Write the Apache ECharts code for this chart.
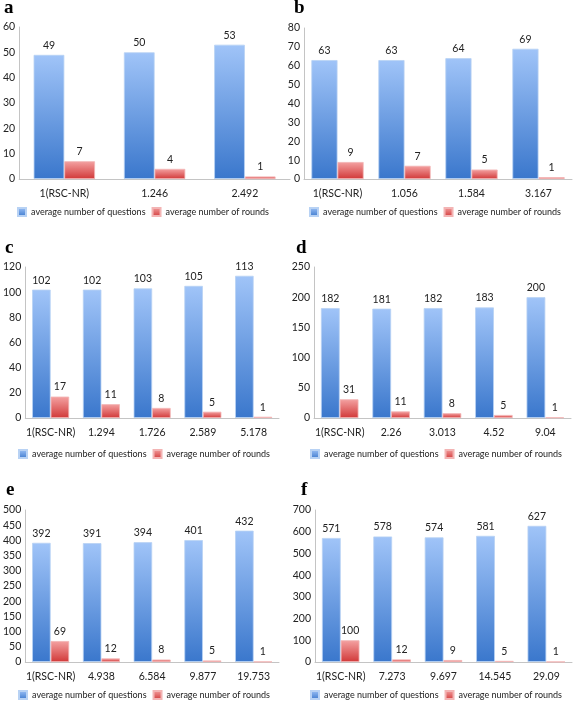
<!DOCTYPE html>
<html><head><meta charset="utf-8">
<script src="https://cdn.jsdelivr.net/npm/echarts@6/dist/echarts.min.js"></script>
<style>html,body{margin:0;padding:0;background:#fff}#c{width:573px;height:701px}</style>
</head><body><div id="c"></div>
<script>
const panelLetters = ['a','b','c','d','e','f'];
const catsA = ['1(RSC-NR)','1.246','2.492'];
const questionsA = [49,50,53];
const roundsA = [7,4,1];
const catsB = ['1(RSC-NR)','1.056','1.584','3.167'];
const questionsB = [63,63,64,69];
const roundsB = [9,7,5,1];
const catsC = ['1(RSC-NR)','1.294','1.726','2.589','5.178'];
const questionsC = [102,102,103,105,113];
const roundsC = [17,11,8,5,1];
const catsD = ['1(RSC-NR)','2.26','3.013','4.52','9.04'];
const questionsD = [182,181,182,183,200];
const roundsD = [31,11,8,5,1];
const catsE = ['1(RSC-NR)','4.938','6.584','9.877','19.753'];
const questionsE = [392,391,394,401,432];
const roundsE = [69,12,8,5,1];
const catsF = ['1(RSC-NR)','7.273','9.697','14.545','29.09'];
const questionsF = [571,578,574,581,627];
const roundsF = [100,12,9,5,1];
const yMax = [60,80,120,250,500,700];
const yStep = [10,10,20,50,50,100];
const seriesNames = ['average number of questions','average number of rounds'];

const cats = [catsA,catsB,catsC,catsD,catsE,catsF];
const qs = [questionsA,questionsB,questionsC,questionsD,questionsE,questionsF];
const rs = [roundsA,roundsB,roundsC,roundsD,roundsE,roundsF];

const grids = [
  {left:17,top:27,width:273,height:152},
  {left:304,top:28,width:268,height:151},
  {left:23,top:267,width:256,height:151},
  {left:314,top:267,width:257,height:151},
  {left:23,top:510,width:256,height:152},
  {left:315,top:510,width:257,height:152}
];
const letterPos = [[4,-1],[294,-1],[5,239],[296,239],[6,481],[301,481]];
const legendPos = [[17,207],[309,207],[18,449],[310,449],[18,690],[310,690]];
const catGap = ['32%','22%','27%','27%','27%','27%'];

const FONT = 'Lato';
const blue = new echarts.graphic.LinearGradient(0,0,0,1,[{offset:0,color:'#a0c4f8'},{offset:1,color:'#3a77cc'}]);
const red = new echarts.graphic.LinearGradient(0,0,0,1,[{offset:0,color:'#f4a2a2'},{offset:1,color:'#d13838'}]);

const option = {
  animation:false,
  backgroundColor:'#fff',
  title: panelLetters.map((t,i)=>({text:t,left:letterPos[i][0],top:letterPos[i][1],padding:0,
    textStyle:{fontFamily:'Liberation Serif',fontWeight:'bold',fontSize:19,color:'#000'}})),
  legend: legendPos.map(p=>({left:p[0],top:p[1],padding:0,width:270,itemWidth:8,itemHeight:8,itemGap:6,
    textStyle:{fontFamily:FONT,fontSize:9,color:'#222'},
    data:seriesNames, icon:'rect', selectedMode:false})),
  grid: grids.map(g=>Object.assign({containLabel:false},g)),
  xAxis: cats.map((c,i)=>({type:'category',gridIndex:i,data:c,
    axisLine:{lineStyle:{color:'#c4c4c4'}},axisTick:{show:false},
    axisLabel:{fontFamily:FONT,fontSize:10.5,color:'#222',margin:9,interval:0}})),
  yAxis: yMax.map((m,i)=>({type:'value',gridIndex:i,min:0,max:m,interval:yStep[i],
    axisLine:{show:true,lineStyle:{color:'#c4c4c4'}},axisTick:{show:false},splitLine:{show:false},
    axisLabel:{fontFamily:FONT,fontSize:10.5,color:'#222',margin:4}})),
  series: []
};
for(let i=0;i<6;i++){
  option.series.push({name:seriesNames[0],type:'bar',xAxisIndex:i,yAxisIndex:i,data:qs[i],
    barGap:'0%',barCategoryGap:catGap[i],
    itemStyle:{color:blue,borderColor:'#b8d2f4',borderWidth:0.8},
    label:{show:true,position:'top',distance:4,fontFamily:FONT,fontSize:10.5,color:'#222'}});
  option.series.push({name:seriesNames[1],type:'bar',xAxisIndex:i,yAxisIndex:i,data:rs[i],
    barGap:'0%',barCategoryGap:catGap[i],
    itemStyle:{color:red,borderColor:'#f3b4b4',borderWidth:0.8},
    label:{show:true,position:'top',distance:4,fontFamily:FONT,fontSize:10.5,color:'#222'}});
}
const chart = echarts.init(document.getElementById('c'),null,{renderer:'canvas'});
chart.setOption(option);
</script></body></html>
